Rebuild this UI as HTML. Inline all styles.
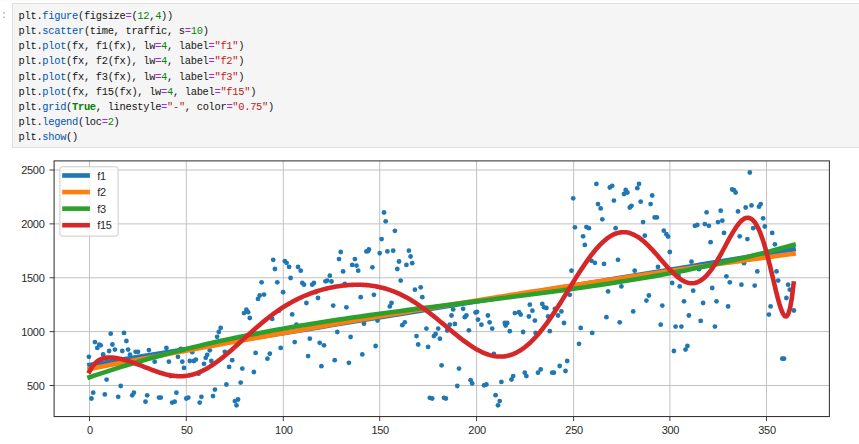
<!DOCTYPE html>
<html><head><meta charset="utf-8"><title>cell</title>
<style>
html,body{margin:0;padding:0;background:#fff;}
body{width:859px;height:444px;overflow:hidden;position:relative;font-family:"Liberation Sans",sans-serif;}
.prompt{position:absolute;left:1px;top:8px;font:10px/15px "Liberation Mono",monospace;color:#9c9c9c;}
.cell{position:absolute;left:12px;top:3px;width:860px;height:143px;background:#f5f5f5;border:1px solid #e0e0e0;box-sizing:content-box;}
.code{position:absolute;left:18.6px;top:9px;font:10.4px/15px "Liberation Mono",monospace;color:#141414;white-space:pre;letter-spacing:-0.3px;}
.ln{height:15.15px;line-height:15.15px;}
.cp{color:#0055aa}.co{color:#aa22ff}.cn{color:#008800}.cs{color:#ba2121}.ck{color:#008000;font-weight:bold}
svg{position:absolute;left:0;top:0;}
.g{stroke:#bfbfbf;stroke-width:0.95}
.t{stroke:#333;stroke-width:0.95}
.tl{font:11px "Liberation Sans",sans-serif;fill:#2a2a2a;letter-spacing:-0.3px}
</style></head><body>
<div style="position:absolute;left:0;top:0;width:859px;height:1px;background:#fafafa"></div>
<div class="prompt">:</div>
<div class="cell"></div>
<div class="code"><div class="ln">plt.<span class="cp">figure</span>(figsize<span class="co">=</span>(<span class="cn">12</span>,<span class="cn">4</span>))</div><div class="ln">plt.<span class="cp">scatter</span>(time, traffic, s<span class="co">=</span><span class="cn">10</span>)</div><div class="ln">plt.<span class="cp">plot</span>(fx, f1(fx), lw<span class="co">=</span><span class="cn">4</span>, label<span class="co">=</span><span class="cs">"f1"</span>)</div><div class="ln">plt.<span class="cp">plot</span>(fx, f2(fx), lw<span class="co">=</span><span class="cn">4</span>, label<span class="co">=</span><span class="cs">"f2"</span>)</div><div class="ln">plt.<span class="cp">plot</span>(fx, f3(fx), lw<span class="co">=</span><span class="cn">4</span>, label<span class="co">=</span><span class="cs">"f3"</span>)</div><div class="ln">plt.<span class="cp">plot</span>(fx, f15(fx), lw<span class="co">=</span><span class="cn">4</span>, label<span class="co">=</span><span class="cs">"f15"</span>)</div><div class="ln">plt.<span class="cp">grid</span>(<span class="ck">True</span>, linestyle<span class="co">=</span><span class="cs">"-"</span>, color<span class="co">=</span><span class="cs">"0.75"</span>)</div><div class="ln">plt.<span class="cp">legend</span>(loc<span class="co">=</span><span class="cn">2</span>)</div><div class="ln">plt.<span class="cp">show</span>()</div></div>
<svg width="859" height="444" viewBox="0 0 859 444">
<defs><clipPath id="ax"><rect x="54.10" y="160.90" width="775.30" height="255.65"/></clipPath></defs>
<line x1="89.50" x2="89.50" y1="160.90" y2="416.55" class="g"/>
<line x1="186.30" x2="186.30" y1="160.90" y2="416.55" class="g"/>
<line x1="283.30" x2="283.30" y1="160.90" y2="416.55" class="g"/>
<line x1="379.70" x2="379.70" y1="160.90" y2="416.55" class="g"/>
<line x1="476.60" x2="476.60" y1="160.90" y2="416.55" class="g"/>
<line x1="573.60" x2="573.60" y1="160.90" y2="416.55" class="g"/>
<line x1="669.90" x2="669.90" y1="160.90" y2="416.55" class="g"/>
<line x1="766.50" x2="766.50" y1="160.90" y2="416.55" class="g"/>
<line x1="54.10" x2="829.40" y1="385.50" y2="385.50" class="g"/>
<line x1="54.10" x2="829.40" y1="331.62" y2="331.62" class="g"/>
<line x1="54.10" x2="829.40" y1="277.75" y2="277.75" class="g"/>
<line x1="54.10" x2="829.40" y1="223.88" y2="223.88" class="g"/>
<line x1="54.10" x2="829.40" y1="170.00" y2="170.00" class="g"/>
<circle cx="88.9" cy="356.8" r="2.4" fill="#1f77b4"/>
<circle cx="94.9" cy="342.1" r="2.4" fill="#1f77b4"/>
<circle cx="97.3" cy="347.9" r="2.4" fill="#1f77b4"/>
<circle cx="99.2" cy="344.7" r="2.4" fill="#1f77b4"/>
<circle cx="100.7" cy="345.3" r="2.4" fill="#1f77b4"/>
<circle cx="103.1" cy="354.4" r="2.4" fill="#1f77b4"/>
<circle cx="106.6" cy="379.6" r="2.4" fill="#1f77b4"/>
<circle cx="109.1" cy="351.0" r="2.4" fill="#1f77b4"/>
<circle cx="110.7" cy="333.7" r="2.4" fill="#1f77b4"/>
<circle cx="112.4" cy="344.5" r="2.4" fill="#1f77b4"/>
<circle cx="114.9" cy="349.6" r="2.4" fill="#1f77b4"/>
<circle cx="122.3" cy="351.0" r="2.4" fill="#1f77b4"/>
<circle cx="124.0" cy="332.9" r="2.4" fill="#1f77b4"/>
<circle cx="126.4" cy="341.0" r="2.4" fill="#1f77b4"/>
<circle cx="128.1" cy="349.6" r="2.4" fill="#1f77b4"/>
<circle cx="130.0" cy="354.6" r="2.4" fill="#1f77b4"/>
<circle cx="135.6" cy="351.8" r="2.4" fill="#1f77b4"/>
<circle cx="138.0" cy="351.8" r="2.4" fill="#1f77b4"/>
<circle cx="148.9" cy="350.1" r="2.4" fill="#1f77b4"/>
<circle cx="154.7" cy="361.7" r="2.4" fill="#1f77b4"/>
<circle cx="166.4" cy="347.9" r="2.4" fill="#1f77b4"/>
<circle cx="168.9" cy="361.7" r="2.4" fill="#1f77b4"/>
<circle cx="178.0" cy="356.8" r="2.4" fill="#1f77b4"/>
<circle cx="180.8" cy="349.0" r="2.4" fill="#1f77b4"/>
<circle cx="182.3" cy="361.7" r="2.4" fill="#1f77b4"/>
<circle cx="184.0" cy="367.9" r="2.4" fill="#1f77b4"/>
<circle cx="189.8" cy="361.0" r="2.4" fill="#1f77b4"/>
<circle cx="192.2" cy="352.2" r="2.4" fill="#1f77b4"/>
<circle cx="193.9" cy="361.0" r="2.4" fill="#1f77b4"/>
<circle cx="195.8" cy="359.6" r="2.4" fill="#1f77b4"/>
<circle cx="204.0" cy="363.8" r="2.4" fill="#1f77b4"/>
<circle cx="205.7" cy="357.8" r="2.4" fill="#1f77b4"/>
<circle cx="207.2" cy="354.8" r="2.4" fill="#1f77b4"/>
<circle cx="209.8" cy="350.3" r="2.4" fill="#1f77b4"/>
<circle cx="93.2" cy="392.7" r="2.4" fill="#1f77b4"/>
<circle cx="91.5" cy="398.5" r="2.4" fill="#1f77b4"/>
<circle cx="104.8" cy="394.4" r="2.4" fill="#1f77b4"/>
<circle cx="118.2" cy="396.8" r="2.4" fill="#1f77b4"/>
<circle cx="120.7" cy="386.0" r="2.4" fill="#1f77b4"/>
<circle cx="132.2" cy="395.3" r="2.4" fill="#1f77b4"/>
<circle cx="133.9" cy="392.7" r="2.4" fill="#1f77b4"/>
<circle cx="145.5" cy="401.7" r="2.4" fill="#1f77b4"/>
<circle cx="147.2" cy="395.3" r="2.4" fill="#1f77b4"/>
<circle cx="159.0" cy="397.6" r="2.4" fill="#1f77b4"/>
<circle cx="160.8" cy="397.6" r="2.4" fill="#1f77b4"/>
<circle cx="176.4" cy="392.7" r="2.4" fill="#1f77b4"/>
<circle cx="172.2" cy="402.6" r="2.4" fill="#1f77b4"/>
<circle cx="174.7" cy="401.7" r="2.4" fill="#1f77b4"/>
<circle cx="186.3" cy="398.5" r="2.4" fill="#1f77b4"/>
<circle cx="188.3" cy="397.6" r="2.4" fill="#1f77b4"/>
<circle cx="201.4" cy="396.8" r="2.4" fill="#1f77b4"/>
<circle cx="199.7" cy="402.6" r="2.4" fill="#1f77b4"/>
<circle cx="170.6" cy="376.1" r="2.4" fill="#1f77b4"/>
<circle cx="198.6" cy="373.7" r="2.4" fill="#1f77b4"/>
<circle cx="220.7" cy="327.9" r="2.4" fill="#1f77b4"/>
<circle cx="218.8" cy="332.0" r="2.4" fill="#1f77b4"/>
<circle cx="217.1" cy="336.8" r="2.4" fill="#1f77b4"/>
<circle cx="211.3" cy="361.0" r="2.4" fill="#1f77b4"/>
<circle cx="224.8" cy="351.8" r="2.4" fill="#1f77b4"/>
<circle cx="232.2" cy="360.2" r="2.4" fill="#1f77b4"/>
<circle cx="229.1" cy="366.9" r="2.4" fill="#1f77b4"/>
<circle cx="242.3" cy="368.6" r="2.4" fill="#1f77b4"/>
<circle cx="226.4" cy="384.5" r="2.4" fill="#1f77b4"/>
<circle cx="240.7" cy="382.6" r="2.4" fill="#1f77b4"/>
<circle cx="214.9" cy="389.6" r="2.4" fill="#1f77b4"/>
<circle cx="213.0" cy="396.1" r="2.4" fill="#1f77b4"/>
<circle cx="234.9" cy="401.1" r="2.4" fill="#1f77b4"/>
<circle cx="238.0" cy="399.5" r="2.4" fill="#1f77b4"/>
<circle cx="236.5" cy="405.3" r="2.4" fill="#1f77b4"/>
<circle cx="255.6" cy="352.9" r="2.4" fill="#1f77b4"/>
<circle cx="253.9" cy="372.0" r="2.4" fill="#1f77b4"/>
<circle cx="269.8" cy="353.7" r="2.4" fill="#1f77b4"/>
<circle cx="267.4" cy="358.7" r="2.4" fill="#1f77b4"/>
<circle cx="280.7" cy="347.9" r="2.4" fill="#1f77b4"/>
<circle cx="294.7" cy="342.1" r="2.4" fill="#1f77b4"/>
<circle cx="309.8" cy="338.7" r="2.4" fill="#1f77b4"/>
<circle cx="308.1" cy="356.1" r="2.4" fill="#1f77b4"/>
<circle cx="319.7" cy="342.8" r="2.4" fill="#1f77b4"/>
<circle cx="324.0" cy="345.3" r="2.4" fill="#1f77b4"/>
<circle cx="321.4" cy="366.2" r="2.4" fill="#1f77b4"/>
<circle cx="337.3" cy="332.0" r="2.4" fill="#1f77b4"/>
<circle cx="334.7" cy="360.2" r="2.4" fill="#1f77b4"/>
<circle cx="350.6" cy="337.0" r="2.4" fill="#1f77b4"/>
<circle cx="348.9" cy="362.8" r="2.4" fill="#1f77b4"/>
<circle cx="362.3" cy="354.4" r="2.4" fill="#1f77b4"/>
<circle cx="375.6" cy="346.0" r="2.4" fill="#1f77b4"/>
<circle cx="416.5" cy="336.1" r="2.4" fill="#1f77b4"/>
<circle cx="418.2" cy="344.5" r="2.4" fill="#1f77b4"/>
<circle cx="426.4" cy="328.6" r="2.4" fill="#1f77b4"/>
<circle cx="428.1" cy="346.9" r="2.4" fill="#1f77b4"/>
<circle cx="433.9" cy="336.1" r="2.4" fill="#1f77b4"/>
<circle cx="435.6" cy="334.0" r="2.4" fill="#1f77b4"/>
<circle cx="438.2" cy="328.6" r="2.4" fill="#1f77b4"/>
<circle cx="439.9" cy="338.7" r="2.4" fill="#1f77b4"/>
<circle cx="447.2" cy="330.5" r="2.4" fill="#1f77b4"/>
<circle cx="441.6" cy="365.3" r="2.4" fill="#1f77b4"/>
<circle cx="459.0" cy="368.6" r="2.4" fill="#1f77b4"/>
<circle cx="468.9" cy="330.3" r="2.4" fill="#1f77b4"/>
<circle cx="457.3" cy="386.0" r="2.4" fill="#1f77b4"/>
<circle cx="470.6" cy="380.2" r="2.4" fill="#1f77b4"/>
<circle cx="472.2" cy="383.4" r="2.4" fill="#1f77b4"/>
<circle cx="429.8" cy="397.8" r="2.4" fill="#1f77b4"/>
<circle cx="432.2" cy="398.5" r="2.4" fill="#1f77b4"/>
<circle cx="444.0" cy="397.8" r="2.4" fill="#1f77b4"/>
<circle cx="445.9" cy="398.5" r="2.4" fill="#1f77b4"/>
<circle cx="492.2" cy="328.6" r="2.4" fill="#1f77b4"/>
<circle cx="484.0" cy="385.3" r="2.4" fill="#1f77b4"/>
<circle cx="486.4" cy="384.5" r="2.4" fill="#1f77b4"/>
<circle cx="493.9" cy="354.0" r="2.4" fill="#1f77b4"/>
<circle cx="495.6" cy="395.2" r="2.4" fill="#1f77b4"/>
<circle cx="499.7" cy="401.1" r="2.4" fill="#1f77b4"/>
<circle cx="498.0" cy="405.3" r="2.4" fill="#1f77b4"/>
<circle cx="501.4" cy="381.9" r="2.4" fill="#1f77b4"/>
<circle cx="509.8" cy="331.2" r="2.4" fill="#1f77b4"/>
<circle cx="511.5" cy="379.5" r="2.4" fill="#1f77b4"/>
<circle cx="513.2" cy="376.1" r="2.4" fill="#1f77b4"/>
<circle cx="523.1" cy="332.0" r="2.4" fill="#1f77b4"/>
<circle cx="524.8" cy="372.7" r="2.4" fill="#1f77b4"/>
<circle cx="526.4" cy="376.1" r="2.4" fill="#1f77b4"/>
<circle cx="535.6" cy="332.9" r="2.4" fill="#1f77b4"/>
<circle cx="549.8" cy="331.2" r="2.4" fill="#1f77b4"/>
<circle cx="580.7" cy="327.9" r="2.4" fill="#1f77b4"/>
<circle cx="592.2" cy="332.9" r="2.4" fill="#1f77b4"/>
<circle cx="579.0" cy="343.8" r="2.4" fill="#1f77b4"/>
<circle cx="567.2" cy="361.0" r="2.4" fill="#1f77b4"/>
<circle cx="559.7" cy="366.0" r="2.4" fill="#1f77b4"/>
<circle cx="565.5" cy="371.0" r="2.4" fill="#1f77b4"/>
<circle cx="540.7" cy="369.4" r="2.4" fill="#1f77b4"/>
<circle cx="538.0" cy="372.7" r="2.4" fill="#1f77b4"/>
<circle cx="552.2" cy="372.7" r="2.4" fill="#1f77b4"/>
<circle cx="553.9" cy="372.7" r="2.4" fill="#1f77b4"/>
<circle cx="675.6" cy="326.6" r="2.4" fill="#1f77b4"/>
<circle cx="681.4" cy="326.6" r="2.4" fill="#1f77b4"/>
<circle cx="673.9" cy="351.0" r="2.4" fill="#1f77b4"/>
<circle cx="685.5" cy="349.6" r="2.4" fill="#1f77b4"/>
<circle cx="687.4" cy="346.0" r="2.4" fill="#1f77b4"/>
<circle cx="714.9" cy="326.6" r="2.4" fill="#1f77b4"/>
<circle cx="782.3" cy="358.7" r="2.4" fill="#1f77b4"/>
<circle cx="784.0" cy="358.7" r="2.4" fill="#1f77b4"/>
<circle cx="273.2" cy="259.8" r="2.4" fill="#1f77b4"/>
<circle cx="274.9" cy="269.0" r="2.4" fill="#1f77b4"/>
<circle cx="284.8" cy="261.1" r="2.4" fill="#1f77b4"/>
<circle cx="286.6" cy="262.8" r="2.4" fill="#1f77b4"/>
<circle cx="289.1" cy="266.9" r="2.4" fill="#1f77b4"/>
<circle cx="290.6" cy="278.0" r="2.4" fill="#1f77b4"/>
<circle cx="261.6" cy="282.3" r="2.4" fill="#1f77b4"/>
<circle cx="277.3" cy="282.3" r="2.4" fill="#1f77b4"/>
<circle cx="283.1" cy="292.2" r="2.4" fill="#1f77b4"/>
<circle cx="264.0" cy="294.6" r="2.4" fill="#1f77b4"/>
<circle cx="259.7" cy="295.5" r="2.4" fill="#1f77b4"/>
<circle cx="258.0" cy="298.9" r="2.4" fill="#1f77b4"/>
<circle cx="246.4" cy="309.7" r="2.4" fill="#1f77b4"/>
<circle cx="244.0" cy="313.1" r="2.4" fill="#1f77b4"/>
<circle cx="248.1" cy="312.2" r="2.4" fill="#1f77b4"/>
<circle cx="249.8" cy="318.0" r="2.4" fill="#1f77b4"/>
<circle cx="298.0" cy="266.9" r="2.4" fill="#1f77b4"/>
<circle cx="300.7" cy="270.7" r="2.4" fill="#1f77b4"/>
<circle cx="302.3" cy="283.0" r="2.4" fill="#1f77b4"/>
<circle cx="304.0" cy="284.7" r="2.4" fill="#1f77b4"/>
<circle cx="312.2" cy="284.7" r="2.4" fill="#1f77b4"/>
<circle cx="313.9" cy="283.0" r="2.4" fill="#1f77b4"/>
<circle cx="315.6" cy="292.2" r="2.4" fill="#1f77b4"/>
<circle cx="318.0" cy="298.0" r="2.4" fill="#1f77b4"/>
<circle cx="306.4" cy="303.0" r="2.4" fill="#1f77b4"/>
<circle cx="292.2" cy="314.4" r="2.4" fill="#1f77b4"/>
<circle cx="279.0" cy="310.7" r="2.4" fill="#1f77b4"/>
<circle cx="272.2" cy="318.9" r="2.4" fill="#1f77b4"/>
<circle cx="296.4" cy="324.7" r="2.4" fill="#1f77b4"/>
<circle cx="325.5" cy="281.3" r="2.4" fill="#1f77b4"/>
<circle cx="327.2" cy="280.6" r="2.4" fill="#1f77b4"/>
<circle cx="329.8" cy="275.7" r="2.4" fill="#1f77b4"/>
<circle cx="331.5" cy="281.5" r="2.4" fill="#1f77b4"/>
<circle cx="333.2" cy="305.6" r="2.4" fill="#1f77b4"/>
<circle cx="339.0" cy="259.1" r="2.4" fill="#1f77b4"/>
<circle cx="340.7" cy="252.0" r="2.4" fill="#1f77b4"/>
<circle cx="343.1" cy="271.4" r="2.4" fill="#1f77b4"/>
<circle cx="344.8" cy="283.9" r="2.4" fill="#1f77b4"/>
<circle cx="346.4" cy="307.3" r="2.4" fill="#1f77b4"/>
<circle cx="352.2" cy="264.9" r="2.4" fill="#1f77b4"/>
<circle cx="354.9" cy="259.1" r="2.4" fill="#1f77b4"/>
<circle cx="356.5" cy="265.6" r="2.4" fill="#1f77b4"/>
<circle cx="358.2" cy="270.7" r="2.4" fill="#1f77b4"/>
<circle cx="360.7" cy="297.2" r="2.4" fill="#1f77b4"/>
<circle cx="366.4" cy="251.4" r="2.4" fill="#1f77b4"/>
<circle cx="368.9" cy="249.5" r="2.4" fill="#1f77b4"/>
<circle cx="364.0" cy="323.7" r="2.4" fill="#1f77b4"/>
<circle cx="379.7" cy="253.1" r="2.4" fill="#1f77b4"/>
<circle cx="387.4" cy="251.4" r="2.4" fill="#1f77b4"/>
<circle cx="393.2" cy="250.7" r="2.4" fill="#1f77b4"/>
<circle cx="408.9" cy="250.7" r="2.4" fill="#1f77b4"/>
<circle cx="410.6" cy="256.5" r="2.4" fill="#1f77b4"/>
<circle cx="399.0" cy="261.5" r="2.4" fill="#1f77b4"/>
<circle cx="406.4" cy="264.9" r="2.4" fill="#1f77b4"/>
<circle cx="412.2" cy="263.2" r="2.4" fill="#1f77b4"/>
<circle cx="372.4" cy="267.3" r="2.4" fill="#1f77b4"/>
<circle cx="397.3" cy="269.0" r="2.4" fill="#1f77b4"/>
<circle cx="400.7" cy="280.6" r="2.4" fill="#1f77b4"/>
<circle cx="420.7" cy="287.3" r="2.4" fill="#1f77b4"/>
<circle cx="414.9" cy="289.7" r="2.4" fill="#1f77b4"/>
<circle cx="373.9" cy="294.8" r="2.4" fill="#1f77b4"/>
<circle cx="422.3" cy="297.2" r="2.4" fill="#1f77b4"/>
<circle cx="391.5" cy="303.0" r="2.4" fill="#1f77b4"/>
<circle cx="389.8" cy="306.4" r="2.4" fill="#1f77b4"/>
<circle cx="404.8" cy="322.3" r="2.4" fill="#1f77b4"/>
<circle cx="402.3" cy="325.2" r="2.4" fill="#1f77b4"/>
<circle cx="377.5" cy="320.6" r="2.4" fill="#1f77b4"/>
<circle cx="453.2" cy="309.4" r="2.4" fill="#1f77b4"/>
<circle cx="463.1" cy="308.8" r="2.4" fill="#1f77b4"/>
<circle cx="451.5" cy="315.5" r="2.4" fill="#1f77b4"/>
<circle cx="464.8" cy="317.2" r="2.4" fill="#1f77b4"/>
<circle cx="466.4" cy="315.5" r="2.4" fill="#1f77b4"/>
<circle cx="475.6" cy="312.5" r="2.4" fill="#1f77b4"/>
<circle cx="478.0" cy="319.6" r="2.4" fill="#1f77b4"/>
<circle cx="487.9" cy="315.5" r="2.4" fill="#1f77b4"/>
<circle cx="489.6" cy="322.3" r="2.4" fill="#1f77b4"/>
<circle cx="454.9" cy="323.9" r="2.4" fill="#1f77b4"/>
<circle cx="449.8" cy="324.7" r="2.4" fill="#1f77b4"/>
<circle cx="481.4" cy="324.7" r="2.4" fill="#1f77b4"/>
<circle cx="504.8" cy="323.0" r="2.4" fill="#1f77b4"/>
<circle cx="507.2" cy="323.0" r="2.4" fill="#1f77b4"/>
<circle cx="514.9" cy="313.1" r="2.4" fill="#1f77b4"/>
<circle cx="519.0" cy="312.2" r="2.4" fill="#1f77b4"/>
<circle cx="520.7" cy="314.6" r="2.4" fill="#1f77b4"/>
<circle cx="528.9" cy="316.5" r="2.4" fill="#1f77b4"/>
<circle cx="529.8" cy="304.7" r="2.4" fill="#1f77b4"/>
<circle cx="584.8" cy="244.9" r="2.4" fill="#1f77b4"/>
<circle cx="591.5" cy="260.8" r="2.4" fill="#1f77b4"/>
<circle cx="594.9" cy="262.8" r="2.4" fill="#1f77b4"/>
<circle cx="604.0" cy="263.9" r="2.4" fill="#1f77b4"/>
<circle cx="618.0" cy="259.8" r="2.4" fill="#1f77b4"/>
<circle cx="571.5" cy="270.7" r="2.4" fill="#1f77b4"/>
<circle cx="569.8" cy="294.8" r="2.4" fill="#1f77b4"/>
<circle cx="634.7" cy="270.7" r="2.4" fill="#1f77b4"/>
<circle cx="658.0" cy="266.9" r="2.4" fill="#1f77b4"/>
<circle cx="669.8" cy="252.0" r="2.4" fill="#1f77b4"/>
<circle cx="621.4" cy="286.4" r="2.4" fill="#1f77b4"/>
<circle cx="608.1" cy="291.4" r="2.4" fill="#1f77b4"/>
<circle cx="648.9" cy="295.5" r="2.4" fill="#1f77b4"/>
<circle cx="646.4" cy="300.6" r="2.4" fill="#1f77b4"/>
<circle cx="662.3" cy="305.6" r="2.4" fill="#1f77b4"/>
<circle cx="633.2" cy="311.4" r="2.4" fill="#1f77b4"/>
<circle cx="606.4" cy="317.2" r="2.4" fill="#1f77b4"/>
<circle cx="619.7" cy="322.3" r="2.4" fill="#1f77b4"/>
<circle cx="672.2" cy="283.0" r="2.4" fill="#1f77b4"/>
<circle cx="679.7" cy="286.4" r="2.4" fill="#1f77b4"/>
<circle cx="684.0" cy="301.3" r="2.4" fill="#1f77b4"/>
<circle cx="688.9" cy="315.5" r="2.4" fill="#1f77b4"/>
<circle cx="532.4" cy="310.7" r="2.4" fill="#1f77b4"/>
<circle cx="534.9" cy="320.6" r="2.4" fill="#1f77b4"/>
<circle cx="542.3" cy="303.9" r="2.4" fill="#1f77b4"/>
<circle cx="544.0" cy="307.3" r="2.4" fill="#1f77b4"/>
<circle cx="546.4" cy="308.0" r="2.4" fill="#1f77b4"/>
<circle cx="548.1" cy="316.5" r="2.4" fill="#1f77b4"/>
<circle cx="554.9" cy="308.8" r="2.4" fill="#1f77b4"/>
<circle cx="558.0" cy="315.5" r="2.4" fill="#1f77b4"/>
<circle cx="561.4" cy="311.4" r="2.4" fill="#1f77b4"/>
<circle cx="564.0" cy="323.0" r="2.4" fill="#1f77b4"/>
<circle cx="660.7" cy="324.7" r="2.4" fill="#1f77b4"/>
<circle cx="678.6" cy="275.7" r="2.4" fill="#1f77b4"/>
<circle cx="774.9" cy="244.3" r="2.4" fill="#1f77b4"/>
<circle cx="691.5" cy="261.7" r="2.4" fill="#1f77b4"/>
<circle cx="744.0" cy="263.2" r="2.4" fill="#1f77b4"/>
<circle cx="757.3" cy="271.4" r="2.4" fill="#1f77b4"/>
<circle cx="776.5" cy="271.4" r="2.4" fill="#1f77b4"/>
<circle cx="726.4" cy="276.3" r="2.4" fill="#1f77b4"/>
<circle cx="729.8" cy="282.3" r="2.4" fill="#1f77b4"/>
<circle cx="741.4" cy="284.7" r="2.4" fill="#1f77b4"/>
<circle cx="754.7" cy="285.6" r="2.4" fill="#1f77b4"/>
<circle cx="712.2" cy="288.0" r="2.4" fill="#1f77b4"/>
<circle cx="693.2" cy="290.7" r="2.4" fill="#1f77b4"/>
<circle cx="778.2" cy="280.6" r="2.4" fill="#1f77b4"/>
<circle cx="788.1" cy="284.7" r="2.4" fill="#1f77b4"/>
<circle cx="789.8" cy="289.7" r="2.4" fill="#1f77b4"/>
<circle cx="786.4" cy="298.0" r="2.4" fill="#1f77b4"/>
<circle cx="703.1" cy="303.0" r="2.4" fill="#1f77b4"/>
<circle cx="716.5" cy="301.3" r="2.4" fill="#1f77b4"/>
<circle cx="728.1" cy="306.4" r="2.4" fill="#1f77b4"/>
<circle cx="770.6" cy="306.4" r="2.4" fill="#1f77b4"/>
<circle cx="768.9" cy="314.6" r="2.4" fill="#1f77b4"/>
<circle cx="793.9" cy="310.5" r="2.4" fill="#1f77b4"/>
<circle cx="700.7" cy="320.9" r="2.4" fill="#1f77b4"/>
<circle cx="699.0" cy="269.2" r="2.4" fill="#1f77b4"/>
<circle cx="384.0" cy="212.5" r="2.4" fill="#1f77b4"/>
<circle cx="385.7" cy="221.3" r="2.4" fill="#1f77b4"/>
<circle cx="394.9" cy="230.8" r="2.4" fill="#1f77b4"/>
<circle cx="381.6" cy="239.1" r="2.4" fill="#1f77b4"/>
<circle cx="573.2" cy="198.3" r="2.4" fill="#1f77b4"/>
<circle cx="596.4" cy="183.9" r="2.4" fill="#1f77b4"/>
<circle cx="609.8" cy="187.5" r="2.4" fill="#1f77b4"/>
<circle cx="612.2" cy="185.8" r="2.4" fill="#1f77b4"/>
<circle cx="613.9" cy="200.6" r="2.4" fill="#1f77b4"/>
<circle cx="598.0" cy="204.1" r="2.4" fill="#1f77b4"/>
<circle cx="600.7" cy="208.4" r="2.4" fill="#1f77b4"/>
<circle cx="602.3" cy="219.3" r="2.4" fill="#1f77b4"/>
<circle cx="624.0" cy="194.0" r="2.4" fill="#1f77b4"/>
<circle cx="625.7" cy="189.9" r="2.4" fill="#1f77b4"/>
<circle cx="627.4" cy="192.5" r="2.4" fill="#1f77b4"/>
<circle cx="629.8" cy="207.5" r="2.4" fill="#1f77b4"/>
<circle cx="631.5" cy="205.8" r="2.4" fill="#1f77b4"/>
<circle cx="637.3" cy="188.2" r="2.4" fill="#1f77b4"/>
<circle cx="639.0" cy="183.9" r="2.4" fill="#1f77b4"/>
<circle cx="640.7" cy="201.7" r="2.4" fill="#1f77b4"/>
<circle cx="652.2" cy="195.5" r="2.4" fill="#1f77b4"/>
<circle cx="650.6" cy="204.1" r="2.4" fill="#1f77b4"/>
<circle cx="643.1" cy="222.1" r="2.4" fill="#1f77b4"/>
<circle cx="654.7" cy="217.4" r="2.4" fill="#1f77b4"/>
<circle cx="656.9" cy="217.4" r="2.4" fill="#1f77b4"/>
<circle cx="574.9" cy="227.3" r="2.4" fill="#1f77b4"/>
<circle cx="586.4" cy="227.1" r="2.4" fill="#1f77b4"/>
<circle cx="588.9" cy="228.2" r="2.4" fill="#1f77b4"/>
<circle cx="583.1" cy="236.3" r="2.4" fill="#1f77b4"/>
<circle cx="615.6" cy="228.2" r="2.4" fill="#1f77b4"/>
<circle cx="644.8" cy="235.7" r="2.4" fill="#1f77b4"/>
<circle cx="663.8" cy="230.7" r="2.4" fill="#1f77b4"/>
<circle cx="666.4" cy="234.2" r="2.4" fill="#1f77b4"/>
<circle cx="668.1" cy="236.6" r="2.4" fill="#1f77b4"/>
<circle cx="749.8" cy="172.5" r="2.4" fill="#1f77b4"/>
<circle cx="732.2" cy="189.5" r="2.4" fill="#1f77b4"/>
<circle cx="733.9" cy="190.1" r="2.4" fill="#1f77b4"/>
<circle cx="735.6" cy="192.5" r="2.4" fill="#1f77b4"/>
<circle cx="706.6" cy="212.3" r="2.4" fill="#1f77b4"/>
<circle cx="720.7" cy="210.7" r="2.4" fill="#1f77b4"/>
<circle cx="738.0" cy="211.4" r="2.4" fill="#1f77b4"/>
<circle cx="745.7" cy="207.5" r="2.4" fill="#1f77b4"/>
<circle cx="751.5" cy="205.4" r="2.4" fill="#1f77b4"/>
<circle cx="759.0" cy="206.7" r="2.4" fill="#1f77b4"/>
<circle cx="760.7" cy="204.1" r="2.4" fill="#1f77b4"/>
<circle cx="763.1" cy="218.3" r="2.4" fill="#1f77b4"/>
<circle cx="694.9" cy="225.8" r="2.4" fill="#1f77b4"/>
<circle cx="697.3" cy="225.0" r="2.4" fill="#1f77b4"/>
<circle cx="704.8" cy="224.1" r="2.4" fill="#1f77b4"/>
<circle cx="708.9" cy="225.8" r="2.4" fill="#1f77b4"/>
<circle cx="718.0" cy="222.1" r="2.4" fill="#1f77b4"/>
<circle cx="722.3" cy="220.7" r="2.4" fill="#1f77b4"/>
<circle cx="764.8" cy="226.5" r="2.4" fill="#1f77b4"/>
<circle cx="753.2" cy="228.2" r="2.4" fill="#1f77b4"/>
<circle cx="724.0" cy="232.9" r="2.4" fill="#1f77b4"/>
<circle cx="772.2" cy="232.9" r="2.4" fill="#1f77b4"/>
<circle cx="739.7" cy="236.3" r="2.4" fill="#1f77b4"/>
<circle cx="747.4" cy="239.1" r="2.4" fill="#1f77b4"/>
<circle cx="710.6" cy="242.2" r="2.4" fill="#1f77b4"/>
<circle cx="505.6" cy="325.5" r="2.4" fill="#1f77b4"/>
<circle cx="477.1" cy="311.8" r="2.4" fill="#1f77b4"/>
<circle cx="368.1" cy="251.0" r="2.4" fill="#1f77b4"/>
<g clip-path="url(#ax)" fill="none" stroke-width="4.6" stroke-linecap="square" stroke-linejoin="round">
<path d="M89.50,364.97 L97.24,363.70 L104.97,362.43 L112.71,361.16 L120.45,359.89 L128.19,358.62 L135.92,357.35 L143.66,356.08 L151.40,354.81 L159.13,353.54 L166.87,352.27 L174.61,351.00 L182.35,349.73 L190.08,348.46 L197.82,347.19 L205.56,345.92 L213.30,344.65 L221.03,343.38 L228.77,342.11 L236.51,340.84 L244.24,339.57 L251.98,338.30 L259.72,337.03 L267.46,335.76 L275.19,334.49 L282.93,333.22 L290.67,331.95 L298.40,330.68 L306.14,329.41 L313.88,328.14 L321.62,326.87 L329.35,325.60 L337.09,324.33 L344.83,323.06 L352.56,321.79 L360.30,320.52 L368.04,319.25 L375.78,317.98 L383.51,316.71 L391.25,315.44 L398.99,314.17 L406.73,312.90 L414.46,311.63 L422.20,310.36 L429.94,309.09 L437.67,307.82 L445.41,306.55 L453.15,305.28 L460.89,304.01 L468.62,302.74 L476.36,301.47 L484.10,300.20 L491.83,298.93 L499.57,297.66 L507.31,296.39 L515.05,295.12 L522.78,293.85 L530.52,292.58 L538.26,291.31 L545.99,290.04 L553.73,288.77 L561.47,287.50 L569.21,286.23 L576.94,284.96 L584.68,283.69 L592.42,282.42 L600.16,281.15 L607.89,279.88 L615.63,278.61 L623.37,277.34 L631.10,276.07 L638.84,274.80 L646.58,273.53 L654.32,272.26 L662.05,270.99 L669.79,269.72 L677.53,268.44 L685.26,267.17 L693.00,265.90 L700.74,264.63 L708.48,263.36 L716.21,262.09 L723.95,260.82 L731.69,259.55 L739.42,258.28 L747.16,257.01 L754.90,255.74 L762.64,254.47 L770.37,253.20 L778.11,251.93 L785.85,250.66 L793.59,249.39 L793.59,249.39" stroke="#1f77b4"/>
<path d="M89.50,368.95 L97.24,367.46 L104.97,365.97 L112.71,364.49 L120.45,363.01 L128.19,361.54 L135.92,360.07 L143.66,358.61 L151.40,357.15 L159.13,355.70 L166.87,354.25 L174.61,352.81 L182.35,351.37 L190.08,349.94 L197.82,348.51 L205.56,347.09 L213.30,345.67 L221.03,344.26 L228.77,342.85 L236.51,341.45 L244.24,340.05 L251.98,338.66 L259.72,337.27 L267.46,335.89 L275.19,334.51 L282.93,333.14 L290.67,331.77 L298.40,330.41 L306.14,329.05 L313.88,327.70 L321.62,326.36 L329.35,325.01 L337.09,323.68 L344.83,322.35 L352.56,321.02 L360.30,319.70 L368.04,318.38 L375.78,317.07 L383.51,315.76 L391.25,314.46 L398.99,313.16 L406.73,311.87 L414.46,310.59 L422.20,309.31 L429.94,308.03 L437.67,306.76 L445.41,305.49 L453.15,304.23 L460.89,302.97 L468.62,301.72 L476.36,300.48 L484.10,299.24 L491.83,298.00 L499.57,296.77 L507.31,295.54 L515.05,294.32 L522.78,293.10 L530.52,291.89 L538.26,290.69 L545.99,289.49 L553.73,288.29 L561.47,287.10 L569.21,285.91 L576.94,284.73 L584.68,283.56 L592.42,282.39 L600.16,281.22 L607.89,280.06 L615.63,278.91 L623.37,277.76 L631.10,276.61 L638.84,275.47 L646.58,274.33 L654.32,273.20 L662.05,272.08 L669.79,270.96 L677.53,269.84 L685.26,268.73 L693.00,267.63 L700.74,266.53 L708.48,265.43 L716.21,264.34 L723.95,263.26 L731.69,262.18 L739.42,261.10 L747.16,260.03 L754.90,258.97 L762.64,257.91 L770.37,256.85 L778.11,255.80 L785.85,254.76 L793.59,253.72 L793.59,253.72" stroke="#ff7f0e"/>
<path d="M89.50,377.30 L97.24,374.67 L104.97,372.11 L112.71,369.61 L120.45,367.18 L128.19,364.82 L135.92,362.51 L143.66,360.27 L151.40,358.08 L159.13,355.96 L166.87,353.89 L174.61,351.87 L182.35,349.91 L190.08,348.01 L197.82,346.15 L205.56,344.34 L213.30,342.58 L221.03,340.87 L228.77,339.20 L236.51,337.58 L244.24,336.00 L251.98,334.46 L259.72,332.96 L267.46,331.50 L275.19,330.08 L282.93,328.69 L290.67,327.33 L298.40,326.01 L306.14,324.72 L313.88,323.46 L321.62,322.23 L329.35,321.02 L337.09,319.84 L344.83,318.69 L352.56,317.55 L360.30,316.44 L368.04,315.35 L375.78,314.28 L383.51,313.22 L391.25,312.18 L398.99,311.16 L406.73,310.15 L414.46,309.14 L422.20,308.15 L429.94,307.17 L437.67,306.20 L445.41,305.23 L453.15,304.26 L460.89,303.30 L468.62,302.34 L476.36,301.38 L484.10,300.42 L491.83,299.46 L499.57,298.49 L507.31,297.51 L515.05,296.53 L522.78,295.55 L530.52,294.55 L538.26,293.54 L545.99,292.52 L553.73,291.48 L561.47,290.43 L569.21,289.37 L576.94,288.28 L584.68,287.18 L592.42,286.05 L600.16,284.90 L607.89,283.73 L615.63,282.53 L623.37,281.31 L631.10,280.06 L638.84,278.77 L646.58,277.46 L654.32,276.12 L662.05,274.74 L669.79,273.33 L677.53,271.88 L685.26,270.39 L693.00,268.86 L700.74,267.30 L708.48,265.69 L716.21,264.03 L723.95,262.34 L731.69,260.59 L739.42,258.80 L747.16,256.96 L754.90,255.07 L762.64,253.12 L770.37,251.12 L778.11,249.07 L785.85,246.96 L793.59,244.80 L793.59,244.80" stroke="#2ca02c"/>
<path d="M89.50,371.46 L91.26,368.30 L93.03,365.70 L94.79,363.60 L96.56,361.92 L98.32,360.59 L100.09,359.56 L101.85,358.78 L103.62,358.21 L105.38,357.82 L107.15,357.59 L108.91,357.48 L110.68,357.49 L112.44,357.58 L114.21,357.76 L115.97,358.00 L117.73,358.31 L119.50,358.66 L121.26,359.07 L123.03,359.51 L124.79,359.99 L126.56,360.51 L128.32,361.05 L130.09,361.62 L131.85,362.22 L133.62,362.84 L135.38,363.47 L137.15,364.13 L138.91,364.79 L140.68,365.47 L142.44,366.16 L144.20,366.85 L145.97,367.54 L147.73,368.23 L149.50,368.92 L151.26,369.59 L153.03,370.26 L154.79,370.90 L156.56,371.53 L158.32,372.13 L160.09,372.71 L161.85,373.25 L163.62,373.76 L165.38,374.23 L167.15,374.65 L168.91,375.03 L170.67,375.37 L172.44,375.65 L174.20,375.88 L175.97,376.04 L177.73,376.16 L179.50,376.20 L181.26,376.19 L183.03,376.11 L184.79,375.97 L186.56,375.75 L188.32,375.47 L190.09,375.12 L191.85,374.71 L193.62,374.22 L195.38,373.67 L197.14,373.05 L198.91,372.36 L200.67,371.61 L202.44,370.79 L204.20,369.91 L205.97,368.97 L207.73,367.97 L209.50,366.91 L211.26,365.80 L213.03,364.63 L214.79,363.42 L216.56,362.16 L218.32,360.85 L220.08,359.50 L221.85,358.12 L223.61,356.70 L225.38,355.24 L227.14,353.76 L228.91,352.25 L230.67,350.72 L232.44,349.17 L234.20,347.60 L235.97,346.01 L237.73,344.42 L239.50,342.82 L241.26,341.21 L243.03,339.60 L244.79,337.99 L246.55,336.39 L248.32,334.79 L250.08,333.20 L251.85,331.62 L253.61,330.05 L255.38,328.50 L257.14,326.96 L258.91,325.44 L260.67,323.95 L262.44,322.47 L264.20,321.02 L265.97,319.59 L267.73,318.19 L269.50,316.82 L271.26,315.47 L273.02,314.15 L274.79,312.87 L276.55,311.61 L278.32,310.38 L280.08,309.19 L281.85,308.02 L283.61,306.89 L285.38,305.79 L287.14,304.72 L288.91,303.68 L290.67,302.68 L292.44,301.70 L294.20,300.76 L295.97,299.85 L297.73,298.97 L299.49,298.11 L301.26,297.29 L303.02,296.50 L304.79,295.74 L306.55,295.01 L308.32,294.30 L310.08,293.62 L311.85,292.97 L313.61,292.35 L315.38,291.75 L317.14,291.18 L318.91,290.63 L320.67,290.11 L322.44,289.62 L324.20,289.15 L325.96,288.70 L327.73,288.28 L329.49,287.88 L331.26,287.50 L333.02,287.15 L334.79,286.82 L336.55,286.51 L338.32,286.23 L340.08,285.97 L341.85,285.74 L343.61,285.53 L345.38,285.34 L347.14,285.18 L348.91,285.04 L350.67,284.93 L352.43,284.84 L354.20,284.78 L355.96,284.75 L357.73,284.74 L359.49,284.76 L361.26,284.81 L363.02,284.89 L364.79,285.00 L366.55,285.13 L368.32,285.30 L370.08,285.50 L371.85,285.73 L373.61,285.99 L375.38,286.29 L377.14,286.62 L378.90,286.99 L380.67,287.39 L382.43,287.82 L384.20,288.29 L385.96,288.80 L387.73,289.34 L389.49,289.93 L391.26,290.55 L393.02,291.20 L394.79,291.90 L396.55,292.63 L398.32,293.40 L400.08,294.21 L401.85,295.06 L403.61,295.95 L405.37,296.87 L407.14,297.83 L408.90,298.83 L410.67,299.86 L412.43,300.93 L414.20,302.04 L415.96,303.17 L417.73,304.34 L419.49,305.55 L421.26,306.78 L423.02,308.04 L424.79,309.33 L426.55,310.65 L428.32,311.99 L430.08,313.36 L431.84,314.74 L433.61,316.15 L435.37,317.57 L437.14,319.01 L438.90,320.46 L440.67,321.92 L442.43,323.38 L444.20,324.86 L445.96,326.33 L447.73,327.81 L449.49,329.28 L451.26,330.75 L453.02,332.20 L454.78,333.65 L456.55,335.08 L458.31,336.49 L460.08,337.88 L461.84,339.25 L463.61,340.59 L465.37,341.90 L467.14,343.17 L468.90,344.41 L470.67,345.60 L472.43,346.75 L474.20,347.85 L475.96,348.91 L477.73,349.90 L479.49,350.84 L481.25,351.72 L483.02,352.54 L484.78,353.29 L486.55,353.97 L488.31,354.58 L490.08,355.11 L491.84,355.56 L493.61,355.94 L495.37,356.23 L497.14,356.43 L498.90,356.55 L500.67,356.57 L502.43,356.51 L504.20,356.35 L505.96,356.10 L507.72,355.75 L509.49,355.31 L511.25,354.76 L513.02,354.12 L514.78,353.37 L516.55,352.53 L518.31,351.58 L520.08,350.54 L521.84,349.39 L523.61,348.15 L525.37,346.80 L527.14,345.36 L528.90,343.82 L530.67,342.19 L532.43,340.46 L534.19,338.64 L535.96,336.73 L537.72,334.73 L539.49,332.65 L541.25,330.49 L543.02,328.25 L544.78,325.94 L546.55,323.55 L548.31,321.10 L550.08,318.59 L551.84,316.01 L553.61,313.39 L555.37,310.71 L557.14,308.00 L558.90,305.24 L560.66,302.45 L562.43,299.63 L564.19,296.80 L565.96,293.94 L567.72,291.08 L569.49,288.21 L571.25,285.35 L573.02,282.50 L574.78,279.66 L576.55,276.85 L578.31,274.07 L580.08,271.32 L581.84,268.62 L583.61,265.96 L585.37,263.37 L587.13,260.83 L588.90,258.37 L590.66,255.98 L592.43,253.68 L594.19,251.46 L595.96,249.34 L597.72,247.32 L599.49,245.40 L601.25,243.60 L603.02,241.91 L604.78,240.35 L606.55,238.91 L608.31,237.60 L610.08,236.43 L611.84,235.39 L613.60,234.49 L615.37,233.74 L617.13,233.13 L618.90,232.68 L620.66,232.36 L622.43,232.20 L624.19,232.19 L625.96,232.32 L627.72,232.60 L629.49,233.03 L631.25,233.60 L633.02,234.31 L634.78,235.16 L636.55,236.14 L638.31,237.25 L640.07,238.48 L641.84,239.82 L643.60,241.28 L645.37,242.84 L647.13,244.49 L648.90,246.23 L650.66,248.04 L652.43,249.92 L654.19,251.86 L655.96,253.84 L657.72,255.86 L659.49,257.89 L661.25,259.94 L663.02,261.98 L664.78,264.01 L666.54,266.00 L668.31,267.95 L670.07,269.85 L671.84,271.67 L673.60,273.41 L675.37,275.05 L677.13,276.58 L678.90,277.99 L680.66,279.25 L682.43,280.36 L684.19,281.31 L685.96,282.09 L687.72,282.68 L689.48,283.07 L691.25,283.26 L693.01,283.23 L694.78,282.99 L696.54,282.52 L698.31,281.82 L700.07,280.90 L701.84,279.74 L703.60,278.35 L705.37,276.73 L707.13,274.89 L708.90,272.83 L710.66,270.57 L712.43,268.12 L714.19,265.48 L715.95,262.68 L717.72,259.74 L719.48,256.67 L721.25,253.51 L723.01,250.27 L724.78,246.99 L726.54,243.70 L728.31,240.44 L730.07,237.23 L731.84,234.13 L733.60,231.16 L735.37,228.38 L737.13,225.82 L738.90,223.53 L740.66,221.56 L742.42,219.95 L744.19,218.74 L745.95,217.99 L747.72,217.72 L749.48,217.99 L751.25,218.83 L753.01,220.27 L754.78,222.33 L756.54,225.04 L758.31,228.41 L760.07,232.43 L761.84,237.10 L763.60,242.38 L765.37,248.25 L767.13,254.65 L768.89,261.48 L770.66,268.67 L772.42,276.06 L774.19,283.52 L775.95,290.85 L777.72,297.83 L779.48,304.18 L781.25,309.61 L783.01,313.74 L784.78,316.16 L786.54,316.39 L788.31,313.90 L790.07,308.07 L791.84,298.19 L793.60,283.50" stroke="#d62728"/>
</g>
<line x1="89.50" x2="89.50" y1="416.55" y2="421.05" class="t"/>
<text x="90.00" y="433.6" text-anchor="middle" class="tl">0</text>
<line x1="186.30" x2="186.30" y1="416.55" y2="421.05" class="t"/>
<text x="186.80" y="433.6" text-anchor="middle" class="tl">50</text>
<line x1="283.30" x2="283.30" y1="416.55" y2="421.05" class="t"/>
<text x="283.80" y="433.6" text-anchor="middle" class="tl">100</text>
<line x1="379.70" x2="379.70" y1="416.55" y2="421.05" class="t"/>
<text x="380.20" y="433.6" text-anchor="middle" class="tl">150</text>
<line x1="476.60" x2="476.60" y1="416.55" y2="421.05" class="t"/>
<text x="477.10" y="433.6" text-anchor="middle" class="tl">200</text>
<line x1="573.60" x2="573.60" y1="416.55" y2="421.05" class="t"/>
<text x="574.10" y="433.6" text-anchor="middle" class="tl">250</text>
<line x1="669.90" x2="669.90" y1="416.55" y2="421.05" class="t"/>
<text x="670.40" y="433.6" text-anchor="middle" class="tl">300</text>
<line x1="766.50" x2="766.50" y1="416.55" y2="421.05" class="t"/>
<text x="767.00" y="433.6" text-anchor="middle" class="tl">350</text>
<line x1="49.60" x2="54.10" y1="385.50" y2="385.50" class="t"/>
<text x="44.5" y="389.90" text-anchor="end" class="tl">500</text>
<line x1="49.60" x2="54.10" y1="331.62" y2="331.62" class="t"/>
<text x="44.5" y="336.02" text-anchor="end" class="tl">1000</text>
<line x1="49.60" x2="54.10" y1="277.75" y2="277.75" class="t"/>
<text x="44.5" y="282.15" text-anchor="end" class="tl">1500</text>
<line x1="49.60" x2="54.10" y1="223.88" y2="223.88" class="t"/>
<text x="44.5" y="228.28" text-anchor="end" class="tl">2000</text>
<line x1="49.60" x2="54.10" y1="170.00" y2="170.00" class="t"/>
<text x="44.5" y="174.40" text-anchor="end" class="tl">2500</text>
<rect x="54.10" y="160.90" width="775.30" height="255.65" fill="none" stroke="#333" stroke-width="1.05"/>
<rect x="59.9" y="166.8" width="58.2" height="69.3" rx="2.3" fill="#fff" fill-opacity="0.8" stroke="#ccc" stroke-width="1"/>
<line x1="64.5" x2="87.6" y1="175.50" y2="175.50" stroke="#1f77b4" stroke-width="4.6" stroke-linecap="square"/>
<text x="97.2" y="179.60" class="tl">f1</text>
<line x1="64.5" x2="87.6" y1="192.07" y2="192.07" stroke="#ff7f0e" stroke-width="4.6" stroke-linecap="square"/>
<text x="97.2" y="196.17" class="tl">f2</text>
<line x1="64.5" x2="87.6" y1="208.64" y2="208.64" stroke="#2ca02c" stroke-width="4.6" stroke-linecap="square"/>
<text x="97.2" y="212.74" class="tl">f3</text>
<line x1="64.5" x2="87.6" y1="225.21" y2="225.21" stroke="#d62728" stroke-width="4.6" stroke-linecap="square"/>
<text x="97.2" y="229.31" class="tl">f15</text>
</svg>
</body></html>
